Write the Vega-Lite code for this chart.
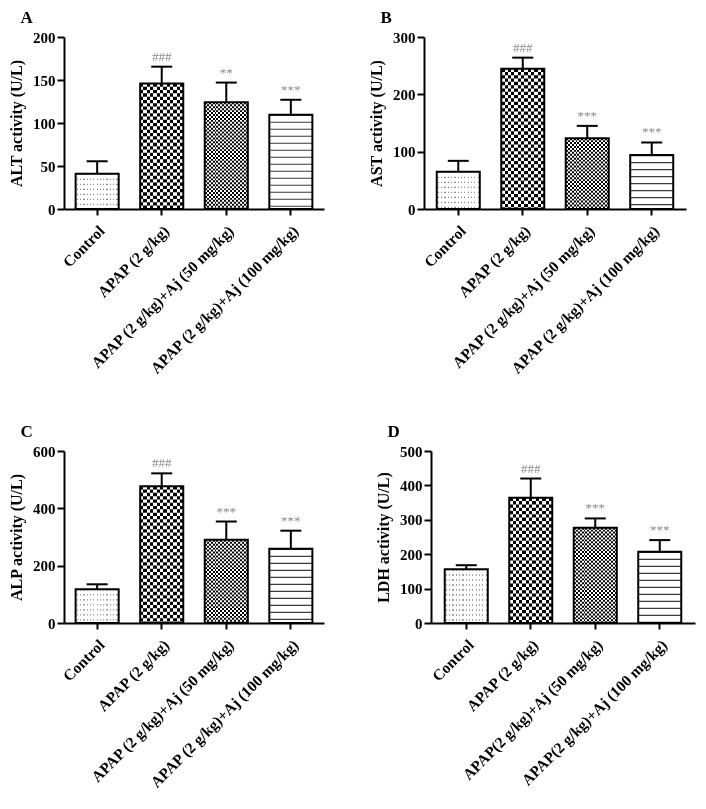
{
  "$schema": "https://vega.github.io/schema/vega-lite/v6.json",
  "background": "white",
  "padding": {"left": 8, "top": 9, "right": 5, "bottom": 5},
  "datasets": {
    "A": [
      {"group": "Control", "mean": 41, "upper": 55.5, "sig": ""},
      {"group": "APAP (2 g/kg)", "mean": 146, "upper": 165.5, "sig": "###"},
      {"group": "APAP (2 g/kg)+Aj (50 mg/kg)", "mean": 124, "upper": 147, "sig": "**"},
      {"group": "APAP (2 g/kg)+Aj (100 mg/kg)", "mean": 109.7, "upper": 127, "sig": "***"}
    ],
    "B": [
      {"group": "Control", "mean": 65, "upper": 84, "sig": ""},
      {"group": "APAP (2 g/kg)", "mean": 244.8, "upper": 264, "sig": "###"},
      {"group": "APAP (2 g/kg)+Aj (50 mg/kg)", "mean": 123.5, "upper": 145, "sig": "***"},
      {"group": "APAP (2 g/kg)+Aj (100 mg/kg)", "mean": 94, "upper": 116, "sig": "***"}
    ],
    "C": [
      {"group": "Control", "mean": 118, "upper": 135, "sig": ""},
      {"group": "APAP (2 g/kg)", "mean": 477, "upper": 522, "sig": "###"},
      {"group": "APAP (2 g/kg)+Aj (50 mg/kg)", "mean": 290, "upper": 354, "sig": "***"},
      {"group": "APAP (2 g/kg)+Aj (100 mg/kg)", "mean": 259, "upper": 322, "sig": "***"}
    ],
    "D": [
      {"group": "Control", "mean": 156, "upper": 168, "sig": ""},
      {"group": "APAP (2 g/kg)", "mean": 364, "upper": 420, "sig": "###"},
      {"group": "APAP(2 g/kg)+Aj (50 mg/kg)", "mean": 277, "upper": 304, "sig": "***"},
      {"group": "APAP(2 g/kg)+Aj (100 mg/kg)", "mean": 207, "upper": 241, "sig": "***"}
    ]
  },
  "config": {
    "view": {"stroke": null},
    "font": "Liberation Serif",
    "axis": {"domainColor": "black", "domainWidth": 2, "tickColor": "black", "tickWidth": 2, "labelFont": "Liberation Serif", "labelFontWeight": "bold", "labelColor": "black", "titleFont": "Liberation Serif", "titleFontWeight": "bold", "titleColor": "black", "grid": false},
    "axisX": {"labelAngle": -45, "labelFontSize": 15.5, "tickSize": 6, "labelPadding": 8, "labelLimit": 400},
    "axisY": {"labelFontSize": 15, "tickSize": 7, "labelPadding": 2, "titleFontSize": 16, "titlePadding": 8, "labelOverlap": false},
    "title": {"font": "Liberation Serif", "fontWeight": "bold", "fontSize": 17, "anchor": "start", "frame": "bounds", "color": "black", "offset": 3, "dx": 12}
  },
  "spacing": 46,
  "vconcat": [
    {
      "spacing": 44,
      "hconcat": [
        {
          "title": "A", "width": 260, "height": 172, "data": {"name": "A"},
          "encoding": {"x": {"field": "group", "type": "nominal", "sort": null, "scale": {"paddingInner": 0.333, "paddingOuter": 0.18}, "axis": {"title": null}}},
          "layer": [
            {"mark": {"type": "bar", "fill": "white", "strokeWidth": 0}, "encoding": {"y": {"field": "mean", "type": "quantitative", "scale": {"domain": [0, 200], "nice": false}, "axis": {"title": "ALT activity (U/L)", "values": [0, 50, 100, 150, 200], "tickCount": 5}}}},
            {"transform": [{"filter": "datum.group == 'Control'"}], "mark": {"type": "rule", "stroke": "#8c8c8c", "strokeWidth": 43, "strokeDash": [1.3, 3.7]}, "encoding": {"y": {"field": "mean", "type": "quantitative"}, "y2": {"datum": 0}}},
            {"transform": [{"filter": "datum.group == 'APAP (2 g/kg)'"}], "mark": {"type": "rule", "stroke": "black", "strokeWidth": 43, "strokeDash": [3.3, 3.3]}, "encoding": {"y": {"field": "mean", "type": "quantitative"}, "y2": {"datum": 0}}},
            {"transform": [{"filter": "indexof(datum.group, '50 mg') >= 0"}], "mark": {"type": "rule", "stroke": "black", "strokeWidth": 43, "strokeDash": [1.95, 1.95]}, "encoding": {"y": {"field": "mean", "type": "quantitative"}, "y2": {"datum": 0}}},
            {"transform": [{"filter": "indexof(datum.group, '100 mg') >= 0"}], "mark": {"type": "rule", "stroke": "#3a3a3a", "strokeWidth": 43, "strokeDash": [1.2, 5.8]}, "encoding": {"y": {"field": "mean", "type": "quantitative"}, "y2": {"datum": 0}}},
            {"transform": [{"filter": "datum.group == 'Control'"}], "mark": {"type": "bar", "strokeWidth": 0, "fill": {"gradient": "linear", "x1": 0, "y1": 0, "x2": 1, "y2": 0, "stops": [
              {"offset": 0, "color": "#ffffff"},
              {"offset": 0.0245, "color": "#ffffff"}, {"offset": 0.0245, "color": "rgba(255,255,255,0)"}, {"offset": 0.0525, "color": "rgba(255,255,255,0)"}, {"offset": 0.0525, "color": "#ffffff"},
              {"offset": 0.1014, "color": "#ffffff"}, {"offset": 0.1014, "color": "rgba(255,255,255,0)"}, {"offset": 0.1294, "color": "rgba(255,255,255,0)"}, {"offset": 0.1294, "color": "#ffffff"},
              {"offset": 0.1783, "color": "#ffffff"}, {"offset": 0.1783, "color": "rgba(255,255,255,0)"}, {"offset": 0.2063, "color": "rgba(255,255,255,0)"}, {"offset": 0.2063, "color": "#ffffff"},
              {"offset": 0.2552, "color": "#ffffff"}, {"offset": 0.2552, "color": "rgba(255,255,255,0)"}, {"offset": 0.2832, "color": "rgba(255,255,255,0)"}, {"offset": 0.2832, "color": "#ffffff"},
              {"offset": 0.3322, "color": "#ffffff"}, {"offset": 0.3322, "color": "rgba(255,255,255,0)"}, {"offset": 0.3602, "color": "rgba(255,255,255,0)"}, {"offset": 0.3602, "color": "#ffffff"},
              {"offset": 0.4091, "color": "#ffffff"}, {"offset": 0.4091, "color": "rgba(255,255,255,0)"}, {"offset": 0.4371, "color": "rgba(255,255,255,0)"}, {"offset": 0.4371, "color": "#ffffff"},
              {"offset": 0.486, "color": "#ffffff"}, {"offset": 0.486, "color": "rgba(255,255,255,0)"}, {"offset": 0.514, "color": "rgba(255,255,255,0)"}, {"offset": 0.514, "color": "#ffffff"},
              {"offset": 0.5629, "color": "#ffffff"}, {"offset": 0.5629, "color": "rgba(255,255,255,0)"}, {"offset": 0.5909, "color": "rgba(255,255,255,0)"}, {"offset": 0.5909, "color": "#ffffff"},
              {"offset": 0.6398, "color": "#ffffff"}, {"offset": 0.6398, "color": "rgba(255,255,255,0)"}, {"offset": 0.6678, "color": "rgba(255,255,255,0)"}, {"offset": 0.6678, "color": "#ffffff"},
              {"offset": 0.7168, "color": "#ffffff"}, {"offset": 0.7168, "color": "rgba(255,255,255,0)"}, {"offset": 0.7448, "color": "rgba(255,255,255,0)"}, {"offset": 0.7448, "color": "#ffffff"},
              {"offset": 0.7937, "color": "#ffffff"}, {"offset": 0.7937, "color": "rgba(255,255,255,0)"}, {"offset": 0.8217, "color": "rgba(255,255,255,0)"}, {"offset": 0.8217, "color": "#ffffff"},
              {"offset": 0.8706, "color": "#ffffff"}, {"offset": 0.8706, "color": "rgba(255,255,255,0)"}, {"offset": 0.8986, "color": "rgba(255,255,255,0)"}, {"offset": 0.8986, "color": "#ffffff"},
              {"offset": 0.9475, "color": "#ffffff"}, {"offset": 0.9475, "color": "rgba(255,255,255,0)"}, {"offset": 0.9755, "color": "rgba(255,255,255,0)"}, {"offset": 0.9755, "color": "#ffffff"},
              {"offset": 1, "color": "#ffffff"}]}}, "encoding": {"y": {"field": "mean", "type": "quantitative"}}},
            {"transform": [{"filter": "datum.group == 'APAP (2 g/kg)'"}], "mark": {"type": "bar", "strokeWidth": 0, "blend": "difference", "fill": {"gradient": "linear", "x1": 0, "y1": 0, "x2": 1, "y2": 0, "stops": [
              {"offset": 0, "color": "rgba(255,255,255,0)"},
              {"offset": 0.0769, "color": "rgba(255,255,255,0)"}, {"offset": 0.0769, "color": "#ffffff"}, {"offset": 0.1538, "color": "#ffffff"}, {"offset": 0.1538, "color": "rgba(255,255,255,0)"},
              {"offset": 0.2308, "color": "rgba(255,255,255,0)"}, {"offset": 0.2308, "color": "#ffffff"}, {"offset": 0.3077, "color": "#ffffff"}, {"offset": 0.3077, "color": "rgba(255,255,255,0)"},
              {"offset": 0.3846, "color": "rgba(255,255,255,0)"}, {"offset": 0.3846, "color": "#ffffff"}, {"offset": 0.4615, "color": "#ffffff"}, {"offset": 0.4615, "color": "rgba(255,255,255,0)"},
              {"offset": 0.5385, "color": "rgba(255,255,255,0)"}, {"offset": 0.5385, "color": "#ffffff"}, {"offset": 0.6154, "color": "#ffffff"}, {"offset": 0.6154, "color": "rgba(255,255,255,0)"},
              {"offset": 0.6923, "color": "rgba(255,255,255,0)"}, {"offset": 0.6923, "color": "#ffffff"}, {"offset": 0.7692, "color": "#ffffff"}, {"offset": 0.7692, "color": "rgba(255,255,255,0)"},
              {"offset": 0.8462, "color": "rgba(255,255,255,0)"}, {"offset": 0.8462, "color": "#ffffff"}, {"offset": 0.9231, "color": "#ffffff"}, {"offset": 0.9231, "color": "rgba(255,255,255,0)"},
              {"offset": 1, "color": "rgba(255,255,255,0)"}]}}, "encoding": {"y": {"field": "mean", "type": "quantitative"}}},
            {"transform": [{"filter": "indexof(datum.group, '50 mg') >= 0"}], "mark": {"type": "bar", "strokeWidth": 0, "blend": "difference", "fill": {"gradient": "linear", "x1": 0, "y1": 0, "x2": 1, "y2": 0, "stops": [
              {"offset": 0, "color": "rgba(255,255,255,0)"},
              {"offset": 0.0455, "color": "rgba(255,255,255,0)"}, {"offset": 0.0455, "color": "#ffffff"}, {"offset": 0.0909, "color": "#ffffff"}, {"offset": 0.0909, "color": "rgba(255,255,255,0)"},
              {"offset": 0.1364, "color": "rgba(255,255,255,0)"}, {"offset": 0.1364, "color": "#ffffff"}, {"offset": 0.1818, "color": "#ffffff"}, {"offset": 0.1818, "color": "rgba(255,255,255,0)"},
              {"offset": 0.2273, "color": "rgba(255,255,255,0)"}, {"offset": 0.2273, "color": "#ffffff"}, {"offset": 0.2727, "color": "#ffffff"}, {"offset": 0.2727, "color": "rgba(255,255,255,0)"},
              {"offset": 0.3182, "color": "rgba(255,255,255,0)"}, {"offset": 0.3182, "color": "#ffffff"}, {"offset": 0.3636, "color": "#ffffff"}, {"offset": 0.3636, "color": "rgba(255,255,255,0)"},
              {"offset": 0.4091, "color": "rgba(255,255,255,0)"}, {"offset": 0.4091, "color": "#ffffff"}, {"offset": 0.4545, "color": "#ffffff"}, {"offset": 0.4545, "color": "rgba(255,255,255,0)"},
              {"offset": 0.5, "color": "rgba(255,255,255,0)"}, {"offset": 0.5, "color": "#ffffff"}, {"offset": 0.5455, "color": "#ffffff"}, {"offset": 0.5455, "color": "rgba(255,255,255,0)"},
              {"offset": 0.5909, "color": "rgba(255,255,255,0)"}, {"offset": 0.5909, "color": "#ffffff"}, {"offset": 0.6364, "color": "#ffffff"}, {"offset": 0.6364, "color": "rgba(255,255,255,0)"},
              {"offset": 0.6818, "color": "rgba(255,255,255,0)"}, {"offset": 0.6818, "color": "#ffffff"}, {"offset": 0.7273, "color": "#ffffff"}, {"offset": 0.7273, "color": "rgba(255,255,255,0)"},
              {"offset": 0.7727, "color": "rgba(255,255,255,0)"}, {"offset": 0.7727, "color": "#ffffff"}, {"offset": 0.8182, "color": "#ffffff"}, {"offset": 0.8182, "color": "rgba(255,255,255,0)"},
              {"offset": 0.8636, "color": "rgba(255,255,255,0)"}, {"offset": 0.8636, "color": "#ffffff"}, {"offset": 0.9091, "color": "#ffffff"}, {"offset": 0.9091, "color": "rgba(255,255,255,0)"},
              {"offset": 0.9545, "color": "rgba(255,255,255,0)"}, {"offset": 0.9545, "color": "#ffffff"}, {"offset": 1, "color": "#ffffff"}]}}, "encoding": {"y": {"field": "mean", "type": "quantitative"}}},
            {"mark": {"type": "bar", "fill": "transparent", "stroke": "black", "strokeWidth": 2}, "encoding": {"y": {"field": "mean", "type": "quantitative"}}},
            {"mark": {"type": "rule", "stroke": "black", "strokeWidth": 2}, "encoding": {"y": {"field": "mean", "type": "quantitative"}, "y2": {"field": "upper"}}},
            {"mark": {"type": "tick", "color": "black", "size": 21, "thickness": 2, "opacity": 1}, "encoding": {"y": {"field": "upper", "type": "quantitative"}}},
            {"mark": {"type": "text", "font": "Liberation Serif", "fontSize": 13, "color": "#8a8a8a", "dy": -6, "baseline": "alphabetic"}, "encoding": {"y": {"field": "upper", "type": "quantitative"}, "text": {"field": "sig", "type": "nominal"}}}
          ]
        },
        {
          "title": "B", "width": 262, "height": 172, "data": {"name": "B"},
          "encoding": {"x": {"field": "group", "type": "nominal", "sort": null, "scale": {"paddingInner": 0.333, "paddingOuter": 0.198}, "axis": {"title": null}}},
          "layer": [
            {"mark": {"type": "bar", "fill": "white", "strokeWidth": 0}, "encoding": {"y": {"field": "mean", "type": "quantitative", "scale": {"domain": [0, 300], "nice": false}, "axis": {"title": "AST activity (U/L)", "values": [0, 100, 200, 300], "tickCount": 4}}}},
            {"transform": [{"filter": "datum.group == 'Control'"}], "mark": {"type": "rule", "stroke": "#8c8c8c", "strokeWidth": 43, "strokeDash": [1.3, 3.7]}, "encoding": {"y": {"field": "mean", "type": "quantitative"}, "y2": {"datum": 0}}},
            {"transform": [{"filter": "datum.group == 'APAP (2 g/kg)'"}], "mark": {"type": "rule", "stroke": "black", "strokeWidth": 43, "strokeDash": [3.3, 3.3]}, "encoding": {"y": {"field": "mean", "type": "quantitative"}, "y2": {"datum": 0}}},
            {"transform": [{"filter": "indexof(datum.group, '50 mg') >= 0"}], "mark": {"type": "rule", "stroke": "black", "strokeWidth": 43, "strokeDash": [1.95, 1.95]}, "encoding": {"y": {"field": "mean", "type": "quantitative"}, "y2": {"datum": 0}}},
            {"transform": [{"filter": "indexof(datum.group, '100 mg') >= 0"}], "mark": {"type": "rule", "stroke": "#3a3a3a", "strokeWidth": 43, "strokeDash": [1.2, 5.8]}, "encoding": {"y": {"field": "mean", "type": "quantitative"}, "y2": {"datum": 0}}},
            {"transform": [{"filter": "datum.group == 'Control'"}], "mark": {"type": "bar", "strokeWidth": 0, "fill": {"gradient": "linear", "x1": 0, "y1": 0, "x2": 1, "y2": 0, "stops": [
              {"offset": 0, "color": "#ffffff"},
              {"offset": 0.0245, "color": "#ffffff"}, {"offset": 0.0245, "color": "rgba(255,255,255,0)"}, {"offset": 0.0525, "color": "rgba(255,255,255,0)"}, {"offset": 0.0525, "color": "#ffffff"},
              {"offset": 0.1014, "color": "#ffffff"}, {"offset": 0.1014, "color": "rgba(255,255,255,0)"}, {"offset": 0.1294, "color": "rgba(255,255,255,0)"}, {"offset": 0.1294, "color": "#ffffff"},
              {"offset": 0.1783, "color": "#ffffff"}, {"offset": 0.1783, "color": "rgba(255,255,255,0)"}, {"offset": 0.2063, "color": "rgba(255,255,255,0)"}, {"offset": 0.2063, "color": "#ffffff"},
              {"offset": 0.2552, "color": "#ffffff"}, {"offset": 0.2552, "color": "rgba(255,255,255,0)"}, {"offset": 0.2832, "color": "rgba(255,255,255,0)"}, {"offset": 0.2832, "color": "#ffffff"},
              {"offset": 0.3322, "color": "#ffffff"}, {"offset": 0.3322, "color": "rgba(255,255,255,0)"}, {"offset": 0.3602, "color": "rgba(255,255,255,0)"}, {"offset": 0.3602, "color": "#ffffff"},
              {"offset": 0.4091, "color": "#ffffff"}, {"offset": 0.4091, "color": "rgba(255,255,255,0)"}, {"offset": 0.4371, "color": "rgba(255,255,255,0)"}, {"offset": 0.4371, "color": "#ffffff"},
              {"offset": 0.486, "color": "#ffffff"}, {"offset": 0.486, "color": "rgba(255,255,255,0)"}, {"offset": 0.514, "color": "rgba(255,255,255,0)"}, {"offset": 0.514, "color": "#ffffff"},
              {"offset": 0.5629, "color": "#ffffff"}, {"offset": 0.5629, "color": "rgba(255,255,255,0)"}, {"offset": 0.5909, "color": "rgba(255,255,255,0)"}, {"offset": 0.5909, "color": "#ffffff"},
              {"offset": 0.6398, "color": "#ffffff"}, {"offset": 0.6398, "color": "rgba(255,255,255,0)"}, {"offset": 0.6678, "color": "rgba(255,255,255,0)"}, {"offset": 0.6678, "color": "#ffffff"},
              {"offset": 0.7168, "color": "#ffffff"}, {"offset": 0.7168, "color": "rgba(255,255,255,0)"}, {"offset": 0.7448, "color": "rgba(255,255,255,0)"}, {"offset": 0.7448, "color": "#ffffff"},
              {"offset": 0.7937, "color": "#ffffff"}, {"offset": 0.7937, "color": "rgba(255,255,255,0)"}, {"offset": 0.8217, "color": "rgba(255,255,255,0)"}, {"offset": 0.8217, "color": "#ffffff"},
              {"offset": 0.8706, "color": "#ffffff"}, {"offset": 0.8706, "color": "rgba(255,255,255,0)"}, {"offset": 0.8986, "color": "rgba(255,255,255,0)"}, {"offset": 0.8986, "color": "#ffffff"},
              {"offset": 0.9475, "color": "#ffffff"}, {"offset": 0.9475, "color": "rgba(255,255,255,0)"}, {"offset": 0.9755, "color": "rgba(255,255,255,0)"}, {"offset": 0.9755, "color": "#ffffff"},
              {"offset": 1, "color": "#ffffff"}]}}, "encoding": {"y": {"field": "mean", "type": "quantitative"}}},
            {"transform": [{"filter": "datum.group == 'APAP (2 g/kg)'"}], "mark": {"type": "bar", "strokeWidth": 0, "blend": "difference", "fill": {"gradient": "linear", "x1": 0, "y1": 0, "x2": 1, "y2": 0, "stops": [
              {"offset": 0, "color": "rgba(255,255,255,0)"},
              {"offset": 0.0769, "color": "rgba(255,255,255,0)"}, {"offset": 0.0769, "color": "#ffffff"}, {"offset": 0.1538, "color": "#ffffff"}, {"offset": 0.1538, "color": "rgba(255,255,255,0)"},
              {"offset": 0.2308, "color": "rgba(255,255,255,0)"}, {"offset": 0.2308, "color": "#ffffff"}, {"offset": 0.3077, "color": "#ffffff"}, {"offset": 0.3077, "color": "rgba(255,255,255,0)"},
              {"offset": 0.3846, "color": "rgba(255,255,255,0)"}, {"offset": 0.3846, "color": "#ffffff"}, {"offset": 0.4615, "color": "#ffffff"}, {"offset": 0.4615, "color": "rgba(255,255,255,0)"},
              {"offset": 0.5385, "color": "rgba(255,255,255,0)"}, {"offset": 0.5385, "color": "#ffffff"}, {"offset": 0.6154, "color": "#ffffff"}, {"offset": 0.6154, "color": "rgba(255,255,255,0)"},
              {"offset": 0.6923, "color": "rgba(255,255,255,0)"}, {"offset": 0.6923, "color": "#ffffff"}, {"offset": 0.7692, "color": "#ffffff"}, {"offset": 0.7692, "color": "rgba(255,255,255,0)"},
              {"offset": 0.8462, "color": "rgba(255,255,255,0)"}, {"offset": 0.8462, "color": "#ffffff"}, {"offset": 0.9231, "color": "#ffffff"}, {"offset": 0.9231, "color": "rgba(255,255,255,0)"},
              {"offset": 1, "color": "rgba(255,255,255,0)"}]}}, "encoding": {"y": {"field": "mean", "type": "quantitative"}}},
            {"transform": [{"filter": "indexof(datum.group, '50 mg') >= 0"}], "mark": {"type": "bar", "strokeWidth": 0, "blend": "difference", "fill": {"gradient": "linear", "x1": 0, "y1": 0, "x2": 1, "y2": 0, "stops": [
              {"offset": 0, "color": "rgba(255,255,255,0)"},
              {"offset": 0.0455, "color": "rgba(255,255,255,0)"}, {"offset": 0.0455, "color": "#ffffff"}, {"offset": 0.0909, "color": "#ffffff"}, {"offset": 0.0909, "color": "rgba(255,255,255,0)"},
              {"offset": 0.1364, "color": "rgba(255,255,255,0)"}, {"offset": 0.1364, "color": "#ffffff"}, {"offset": 0.1818, "color": "#ffffff"}, {"offset": 0.1818, "color": "rgba(255,255,255,0)"},
              {"offset": 0.2273, "color": "rgba(255,255,255,0)"}, {"offset": 0.2273, "color": "#ffffff"}, {"offset": 0.2727, "color": "#ffffff"}, {"offset": 0.2727, "color": "rgba(255,255,255,0)"},
              {"offset": 0.3182, "color": "rgba(255,255,255,0)"}, {"offset": 0.3182, "color": "#ffffff"}, {"offset": 0.3636, "color": "#ffffff"}, {"offset": 0.3636, "color": "rgba(255,255,255,0)"},
              {"offset": 0.4091, "color": "rgba(255,255,255,0)"}, {"offset": 0.4091, "color": "#ffffff"}, {"offset": 0.4545, "color": "#ffffff"}, {"offset": 0.4545, "color": "rgba(255,255,255,0)"},
              {"offset": 0.5, "color": "rgba(255,255,255,0)"}, {"offset": 0.5, "color": "#ffffff"}, {"offset": 0.5455, "color": "#ffffff"}, {"offset": 0.5455, "color": "rgba(255,255,255,0)"},
              {"offset": 0.5909, "color": "rgba(255,255,255,0)"}, {"offset": 0.5909, "color": "#ffffff"}, {"offset": 0.6364, "color": "#ffffff"}, {"offset": 0.6364, "color": "rgba(255,255,255,0)"},
              {"offset": 0.6818, "color": "rgba(255,255,255,0)"}, {"offset": 0.6818, "color": "#ffffff"}, {"offset": 0.7273, "color": "#ffffff"}, {"offset": 0.7273, "color": "rgba(255,255,255,0)"},
              {"offset": 0.7727, "color": "rgba(255,255,255,0)"}, {"offset": 0.7727, "color": "#ffffff"}, {"offset": 0.8182, "color": "#ffffff"}, {"offset": 0.8182, "color": "rgba(255,255,255,0)"},
              {"offset": 0.8636, "color": "rgba(255,255,255,0)"}, {"offset": 0.8636, "color": "#ffffff"}, {"offset": 0.9091, "color": "#ffffff"}, {"offset": 0.9091, "color": "rgba(255,255,255,0)"},
              {"offset": 0.9545, "color": "rgba(255,255,255,0)"}, {"offset": 0.9545, "color": "#ffffff"}, {"offset": 1, "color": "#ffffff"}]}}, "encoding": {"y": {"field": "mean", "type": "quantitative"}}},
            {"mark": {"type": "bar", "fill": "transparent", "stroke": "black", "strokeWidth": 2}, "encoding": {"y": {"field": "mean", "type": "quantitative"}}},
            {"mark": {"type": "rule", "stroke": "black", "strokeWidth": 2}, "encoding": {"y": {"field": "mean", "type": "quantitative"}, "y2": {"field": "upper"}}},
            {"mark": {"type": "tick", "color": "black", "size": 21, "thickness": 2, "opacity": 1}, "encoding": {"y": {"field": "upper", "type": "quantitative"}}},
            {"mark": {"type": "text", "font": "Liberation Serif", "fontSize": 13, "color": "#8a8a8a", "dy": -6, "baseline": "alphabetic"}, "encoding": {"y": {"field": "upper", "type": "quantitative"}, "text": {"field": "sig", "type": "nominal"}}}
          ]
        }
      ]
    },
    {
      "spacing": 51,
      "hconcat": [
        {
          "title": "C", "width": 260, "height": 172, "data": {"name": "C"},
          "encoding": {"x": {"field": "group", "type": "nominal", "sort": null, "scale": {"paddingInner": 0.333, "paddingOuter": 0.18}, "axis": {"title": null}}},
          "layer": [
            {"mark": {"type": "bar", "fill": "white", "strokeWidth": 0}, "encoding": {"y": {"field": "mean", "type": "quantitative", "scale": {"domain": [0, 600], "nice": false}, "axis": {"title": "ALP activity (U/L)", "values": [0, 200, 400, 600], "tickCount": 4}}}},
            {"transform": [{"filter": "datum.group == 'Control'"}], "mark": {"type": "rule", "stroke": "#8c8c8c", "strokeWidth": 43, "strokeDash": [1.3, 3.7]}, "encoding": {"y": {"field": "mean", "type": "quantitative"}, "y2": {"datum": 0}}},
            {"transform": [{"filter": "datum.group == 'APAP (2 g/kg)'"}], "mark": {"type": "rule", "stroke": "black", "strokeWidth": 43, "strokeDash": [3.3, 3.3]}, "encoding": {"y": {"field": "mean", "type": "quantitative"}, "y2": {"datum": 0}}},
            {"transform": [{"filter": "indexof(datum.group, '50 mg') >= 0"}], "mark": {"type": "rule", "stroke": "black", "strokeWidth": 43, "strokeDash": [1.95, 1.95]}, "encoding": {"y": {"field": "mean", "type": "quantitative"}, "y2": {"datum": 0}}},
            {"transform": [{"filter": "indexof(datum.group, '100 mg') >= 0"}], "mark": {"type": "rule", "stroke": "#3a3a3a", "strokeWidth": 43, "strokeDash": [1.2, 5.8]}, "encoding": {"y": {"field": "mean", "type": "quantitative"}, "y2": {"datum": 0}}},
            {"transform": [{"filter": "datum.group == 'Control'"}], "mark": {"type": "bar", "strokeWidth": 0, "fill": {"gradient": "linear", "x1": 0, "y1": 0, "x2": 1, "y2": 0, "stops": [
              {"offset": 0, "color": "#ffffff"},
              {"offset": 0.0245, "color": "#ffffff"}, {"offset": 0.0245, "color": "rgba(255,255,255,0)"}, {"offset": 0.0525, "color": "rgba(255,255,255,0)"}, {"offset": 0.0525, "color": "#ffffff"},
              {"offset": 0.1014, "color": "#ffffff"}, {"offset": 0.1014, "color": "rgba(255,255,255,0)"}, {"offset": 0.1294, "color": "rgba(255,255,255,0)"}, {"offset": 0.1294, "color": "#ffffff"},
              {"offset": 0.1783, "color": "#ffffff"}, {"offset": 0.1783, "color": "rgba(255,255,255,0)"}, {"offset": 0.2063, "color": "rgba(255,255,255,0)"}, {"offset": 0.2063, "color": "#ffffff"},
              {"offset": 0.2552, "color": "#ffffff"}, {"offset": 0.2552, "color": "rgba(255,255,255,0)"}, {"offset": 0.2832, "color": "rgba(255,255,255,0)"}, {"offset": 0.2832, "color": "#ffffff"},
              {"offset": 0.3322, "color": "#ffffff"}, {"offset": 0.3322, "color": "rgba(255,255,255,0)"}, {"offset": 0.3602, "color": "rgba(255,255,255,0)"}, {"offset": 0.3602, "color": "#ffffff"},
              {"offset": 0.4091, "color": "#ffffff"}, {"offset": 0.4091, "color": "rgba(255,255,255,0)"}, {"offset": 0.4371, "color": "rgba(255,255,255,0)"}, {"offset": 0.4371, "color": "#ffffff"},
              {"offset": 0.486, "color": "#ffffff"}, {"offset": 0.486, "color": "rgba(255,255,255,0)"}, {"offset": 0.514, "color": "rgba(255,255,255,0)"}, {"offset": 0.514, "color": "#ffffff"},
              {"offset": 0.5629, "color": "#ffffff"}, {"offset": 0.5629, "color": "rgba(255,255,255,0)"}, {"offset": 0.5909, "color": "rgba(255,255,255,0)"}, {"offset": 0.5909, "color": "#ffffff"},
              {"offset": 0.6398, "color": "#ffffff"}, {"offset": 0.6398, "color": "rgba(255,255,255,0)"}, {"offset": 0.6678, "color": "rgba(255,255,255,0)"}, {"offset": 0.6678, "color": "#ffffff"},
              {"offset": 0.7168, "color": "#ffffff"}, {"offset": 0.7168, "color": "rgba(255,255,255,0)"}, {"offset": 0.7448, "color": "rgba(255,255,255,0)"}, {"offset": 0.7448, "color": "#ffffff"},
              {"offset": 0.7937, "color": "#ffffff"}, {"offset": 0.7937, "color": "rgba(255,255,255,0)"}, {"offset": 0.8217, "color": "rgba(255,255,255,0)"}, {"offset": 0.8217, "color": "#ffffff"},
              {"offset": 0.8706, "color": "#ffffff"}, {"offset": 0.8706, "color": "rgba(255,255,255,0)"}, {"offset": 0.8986, "color": "rgba(255,255,255,0)"}, {"offset": 0.8986, "color": "#ffffff"},
              {"offset": 0.9475, "color": "#ffffff"}, {"offset": 0.9475, "color": "rgba(255,255,255,0)"}, {"offset": 0.9755, "color": "rgba(255,255,255,0)"}, {"offset": 0.9755, "color": "#ffffff"},
              {"offset": 1, "color": "#ffffff"}]}}, "encoding": {"y": {"field": "mean", "type": "quantitative"}}},
            {"transform": [{"filter": "datum.group == 'APAP (2 g/kg)'"}], "mark": {"type": "bar", "strokeWidth": 0, "blend": "difference", "fill": {"gradient": "linear", "x1": 0, "y1": 0, "x2": 1, "y2": 0, "stops": [
              {"offset": 0, "color": "rgba(255,255,255,0)"},
              {"offset": 0.0769, "color": "rgba(255,255,255,0)"}, {"offset": 0.0769, "color": "#ffffff"}, {"offset": 0.1538, "color": "#ffffff"}, {"offset": 0.1538, "color": "rgba(255,255,255,0)"},
              {"offset": 0.2308, "color": "rgba(255,255,255,0)"}, {"offset": 0.2308, "color": "#ffffff"}, {"offset": 0.3077, "color": "#ffffff"}, {"offset": 0.3077, "color": "rgba(255,255,255,0)"},
              {"offset": 0.3846, "color": "rgba(255,255,255,0)"}, {"offset": 0.3846, "color": "#ffffff"}, {"offset": 0.4615, "color": "#ffffff"}, {"offset": 0.4615, "color": "rgba(255,255,255,0)"},
              {"offset": 0.5385, "color": "rgba(255,255,255,0)"}, {"offset": 0.5385, "color": "#ffffff"}, {"offset": 0.6154, "color": "#ffffff"}, {"offset": 0.6154, "color": "rgba(255,255,255,0)"},
              {"offset": 0.6923, "color": "rgba(255,255,255,0)"}, {"offset": 0.6923, "color": "#ffffff"}, {"offset": 0.7692, "color": "#ffffff"}, {"offset": 0.7692, "color": "rgba(255,255,255,0)"},
              {"offset": 0.8462, "color": "rgba(255,255,255,0)"}, {"offset": 0.8462, "color": "#ffffff"}, {"offset": 0.9231, "color": "#ffffff"}, {"offset": 0.9231, "color": "rgba(255,255,255,0)"},
              {"offset": 1, "color": "rgba(255,255,255,0)"}]}}, "encoding": {"y": {"field": "mean", "type": "quantitative"}}},
            {"transform": [{"filter": "indexof(datum.group, '50 mg') >= 0"}], "mark": {"type": "bar", "strokeWidth": 0, "blend": "difference", "fill": {"gradient": "linear", "x1": 0, "y1": 0, "x2": 1, "y2": 0, "stops": [
              {"offset": 0, "color": "rgba(255,255,255,0)"},
              {"offset": 0.0455, "color": "rgba(255,255,255,0)"}, {"offset": 0.0455, "color": "#ffffff"}, {"offset": 0.0909, "color": "#ffffff"}, {"offset": 0.0909, "color": "rgba(255,255,255,0)"},
              {"offset": 0.1364, "color": "rgba(255,255,255,0)"}, {"offset": 0.1364, "color": "#ffffff"}, {"offset": 0.1818, "color": "#ffffff"}, {"offset": 0.1818, "color": "rgba(255,255,255,0)"},
              {"offset": 0.2273, "color": "rgba(255,255,255,0)"}, {"offset": 0.2273, "color": "#ffffff"}, {"offset": 0.2727, "color": "#ffffff"}, {"offset": 0.2727, "color": "rgba(255,255,255,0)"},
              {"offset": 0.3182, "color": "rgba(255,255,255,0)"}, {"offset": 0.3182, "color": "#ffffff"}, {"offset": 0.3636, "color": "#ffffff"}, {"offset": 0.3636, "color": "rgba(255,255,255,0)"},
              {"offset": 0.4091, "color": "rgba(255,255,255,0)"}, {"offset": 0.4091, "color": "#ffffff"}, {"offset": 0.4545, "color": "#ffffff"}, {"offset": 0.4545, "color": "rgba(255,255,255,0)"},
              {"offset": 0.5, "color": "rgba(255,255,255,0)"}, {"offset": 0.5, "color": "#ffffff"}, {"offset": 0.5455, "color": "#ffffff"}, {"offset": 0.5455, "color": "rgba(255,255,255,0)"},
              {"offset": 0.5909, "color": "rgba(255,255,255,0)"}, {"offset": 0.5909, "color": "#ffffff"}, {"offset": 0.6364, "color": "#ffffff"}, {"offset": 0.6364, "color": "rgba(255,255,255,0)"},
              {"offset": 0.6818, "color": "rgba(255,255,255,0)"}, {"offset": 0.6818, "color": "#ffffff"}, {"offset": 0.7273, "color": "#ffffff"}, {"offset": 0.7273, "color": "rgba(255,255,255,0)"},
              {"offset": 0.7727, "color": "rgba(255,255,255,0)"}, {"offset": 0.7727, "color": "#ffffff"}, {"offset": 0.8182, "color": "#ffffff"}, {"offset": 0.8182, "color": "rgba(255,255,255,0)"},
              {"offset": 0.8636, "color": "rgba(255,255,255,0)"}, {"offset": 0.8636, "color": "#ffffff"}, {"offset": 0.9091, "color": "#ffffff"}, {"offset": 0.9091, "color": "rgba(255,255,255,0)"},
              {"offset": 0.9545, "color": "rgba(255,255,255,0)"}, {"offset": 0.9545, "color": "#ffffff"}, {"offset": 1, "color": "#ffffff"}]}}, "encoding": {"y": {"field": "mean", "type": "quantitative"}}},
            {"mark": {"type": "bar", "fill": "transparent", "stroke": "black", "strokeWidth": 2}, "encoding": {"y": {"field": "mean", "type": "quantitative"}}},
            {"mark": {"type": "rule", "stroke": "black", "strokeWidth": 2}, "encoding": {"y": {"field": "mean", "type": "quantitative"}, "y2": {"field": "upper"}}},
            {"mark": {"type": "tick", "color": "black", "size": 21, "thickness": 2, "opacity": 1}, "encoding": {"y": {"field": "upper", "type": "quantitative"}}},
            {"mark": {"type": "text", "font": "Liberation Serif", "fontSize": 13, "color": "#8a8a8a", "dy": -6, "baseline": "alphabetic"}, "encoding": {"y": {"field": "upper", "type": "quantitative"}, "text": {"field": "sig", "type": "nominal"}}}
          ]
        },
        {
          "title": "D", "width": 264, "height": 172, "data": {"name": "D"},
          "encoding": {"x": {"field": "group", "type": "nominal", "sort": null, "scale": {"paddingInner": 0.333, "paddingOuter": 0.213}, "axis": {"title": null}}},
          "layer": [
            {"mark": {"type": "bar", "fill": "white", "strokeWidth": 0}, "encoding": {"y": {"field": "mean", "type": "quantitative", "scale": {"domain": [0, 500], "nice": false}, "axis": {"title": "LDH activity (U/L)", "values": [0, 100, 200, 300, 400, 500], "tickCount": 6}}}},
            {"transform": [{"filter": "datum.group == 'Control'"}], "mark": {"type": "rule", "stroke": "#8c8c8c", "strokeWidth": 43, "strokeDash": [1.3, 3.7]}, "encoding": {"y": {"field": "mean", "type": "quantitative"}, "y2": {"datum": 0}}},
            {"transform": [{"filter": "datum.group == 'APAP (2 g/kg)'"}], "mark": {"type": "rule", "stroke": "black", "strokeWidth": 43, "strokeDash": [3.3, 3.3]}, "encoding": {"y": {"field": "mean", "type": "quantitative"}, "y2": {"datum": 0}}},
            {"transform": [{"filter": "indexof(datum.group, '50 mg') >= 0"}], "mark": {"type": "rule", "stroke": "black", "strokeWidth": 43, "strokeDash": [1.95, 1.95]}, "encoding": {"y": {"field": "mean", "type": "quantitative"}, "y2": {"datum": 0}}},
            {"transform": [{"filter": "indexof(datum.group, '100 mg') >= 0"}], "mark": {"type": "rule", "stroke": "#3a3a3a", "strokeWidth": 43, "strokeDash": [1.2, 5.8]}, "encoding": {"y": {"field": "mean", "type": "quantitative"}, "y2": {"datum": 0}}},
            {"transform": [{"filter": "datum.group == 'Control'"}], "mark": {"type": "bar", "strokeWidth": 0, "fill": {"gradient": "linear", "x1": 0, "y1": 0, "x2": 1, "y2": 0, "stops": [
              {"offset": 0, "color": "#ffffff"},
              {"offset": 0.0245, "color": "#ffffff"}, {"offset": 0.0245, "color": "rgba(255,255,255,0)"}, {"offset": 0.0525, "color": "rgba(255,255,255,0)"}, {"offset": 0.0525, "color": "#ffffff"},
              {"offset": 0.1014, "color": "#ffffff"}, {"offset": 0.1014, "color": "rgba(255,255,255,0)"}, {"offset": 0.1294, "color": "rgba(255,255,255,0)"}, {"offset": 0.1294, "color": "#ffffff"},
              {"offset": 0.1783, "color": "#ffffff"}, {"offset": 0.1783, "color": "rgba(255,255,255,0)"}, {"offset": 0.2063, "color": "rgba(255,255,255,0)"}, {"offset": 0.2063, "color": "#ffffff"},
              {"offset": 0.2552, "color": "#ffffff"}, {"offset": 0.2552, "color": "rgba(255,255,255,0)"}, {"offset": 0.2832, "color": "rgba(255,255,255,0)"}, {"offset": 0.2832, "color": "#ffffff"},
              {"offset": 0.3322, "color": "#ffffff"}, {"offset": 0.3322, "color": "rgba(255,255,255,0)"}, {"offset": 0.3602, "color": "rgba(255,255,255,0)"}, {"offset": 0.3602, "color": "#ffffff"},
              {"offset": 0.4091, "color": "#ffffff"}, {"offset": 0.4091, "color": "rgba(255,255,255,0)"}, {"offset": 0.4371, "color": "rgba(255,255,255,0)"}, {"offset": 0.4371, "color": "#ffffff"},
              {"offset": 0.486, "color": "#ffffff"}, {"offset": 0.486, "color": "rgba(255,255,255,0)"}, {"offset": 0.514, "color": "rgba(255,255,255,0)"}, {"offset": 0.514, "color": "#ffffff"},
              {"offset": 0.5629, "color": "#ffffff"}, {"offset": 0.5629, "color": "rgba(255,255,255,0)"}, {"offset": 0.5909, "color": "rgba(255,255,255,0)"}, {"offset": 0.5909, "color": "#ffffff"},
              {"offset": 0.6398, "color": "#ffffff"}, {"offset": 0.6398, "color": "rgba(255,255,255,0)"}, {"offset": 0.6678, "color": "rgba(255,255,255,0)"}, {"offset": 0.6678, "color": "#ffffff"},
              {"offset": 0.7168, "color": "#ffffff"}, {"offset": 0.7168, "color": "rgba(255,255,255,0)"}, {"offset": 0.7448, "color": "rgba(255,255,255,0)"}, {"offset": 0.7448, "color": "#ffffff"},
              {"offset": 0.7937, "color": "#ffffff"}, {"offset": 0.7937, "color": "rgba(255,255,255,0)"}, {"offset": 0.8217, "color": "rgba(255,255,255,0)"}, {"offset": 0.8217, "color": "#ffffff"},
              {"offset": 0.8706, "color": "#ffffff"}, {"offset": 0.8706, "color": "rgba(255,255,255,0)"}, {"offset": 0.8986, "color": "rgba(255,255,255,0)"}, {"offset": 0.8986, "color": "#ffffff"},
              {"offset": 0.9475, "color": "#ffffff"}, {"offset": 0.9475, "color": "rgba(255,255,255,0)"}, {"offset": 0.9755, "color": "rgba(255,255,255,0)"}, {"offset": 0.9755, "color": "#ffffff"},
              {"offset": 1, "color": "#ffffff"}]}}, "encoding": {"y": {"field": "mean", "type": "quantitative"}}},
            {"transform": [{"filter": "datum.group == 'APAP (2 g/kg)'"}], "mark": {"type": "bar", "strokeWidth": 0, "blend": "difference", "fill": {"gradient": "linear", "x1": 0, "y1": 0, "x2": 1, "y2": 0, "stops": [
              {"offset": 0, "color": "rgba(255,255,255,0)"},
              {"offset": 0.0769, "color": "rgba(255,255,255,0)"}, {"offset": 0.0769, "color": "#ffffff"}, {"offset": 0.1538, "color": "#ffffff"}, {"offset": 0.1538, "color": "rgba(255,255,255,0)"},
              {"offset": 0.2308, "color": "rgba(255,255,255,0)"}, {"offset": 0.2308, "color": "#ffffff"}, {"offset": 0.3077, "color": "#ffffff"}, {"offset": 0.3077, "color": "rgba(255,255,255,0)"},
              {"offset": 0.3846, "color": "rgba(255,255,255,0)"}, {"offset": 0.3846, "color": "#ffffff"}, {"offset": 0.4615, "color": "#ffffff"}, {"offset": 0.4615, "color": "rgba(255,255,255,0)"},
              {"offset": 0.5385, "color": "rgba(255,255,255,0)"}, {"offset": 0.5385, "color": "#ffffff"}, {"offset": 0.6154, "color": "#ffffff"}, {"offset": 0.6154, "color": "rgba(255,255,255,0)"},
              {"offset": 0.6923, "color": "rgba(255,255,255,0)"}, {"offset": 0.6923, "color": "#ffffff"}, {"offset": 0.7692, "color": "#ffffff"}, {"offset": 0.7692, "color": "rgba(255,255,255,0)"},
              {"offset": 0.8462, "color": "rgba(255,255,255,0)"}, {"offset": 0.8462, "color": "#ffffff"}, {"offset": 0.9231, "color": "#ffffff"}, {"offset": 0.9231, "color": "rgba(255,255,255,0)"},
              {"offset": 1, "color": "rgba(255,255,255,0)"}]}}, "encoding": {"y": {"field": "mean", "type": "quantitative"}}},
            {"transform": [{"filter": "indexof(datum.group, '50 mg') >= 0"}], "mark": {"type": "bar", "strokeWidth": 0, "blend": "difference", "fill": {"gradient": "linear", "x1": 0, "y1": 0, "x2": 1, "y2": 0, "stops": [
              {"offset": 0, "color": "rgba(255,255,255,0)"},
              {"offset": 0.0455, "color": "rgba(255,255,255,0)"}, {"offset": 0.0455, "color": "#ffffff"}, {"offset": 0.0909, "color": "#ffffff"}, {"offset": 0.0909, "color": "rgba(255,255,255,0)"},
              {"offset": 0.1364, "color": "rgba(255,255,255,0)"}, {"offset": 0.1364, "color": "#ffffff"}, {"offset": 0.1818, "color": "#ffffff"}, {"offset": 0.1818, "color": "rgba(255,255,255,0)"},
              {"offset": 0.2273, "color": "rgba(255,255,255,0)"}, {"offset": 0.2273, "color": "#ffffff"}, {"offset": 0.2727, "color": "#ffffff"}, {"offset": 0.2727, "color": "rgba(255,255,255,0)"},
              {"offset": 0.3182, "color": "rgba(255,255,255,0)"}, {"offset": 0.3182, "color": "#ffffff"}, {"offset": 0.3636, "color": "#ffffff"}, {"offset": 0.3636, "color": "rgba(255,255,255,0)"},
              {"offset": 0.4091, "color": "rgba(255,255,255,0)"}, {"offset": 0.4091, "color": "#ffffff"}, {"offset": 0.4545, "color": "#ffffff"}, {"offset": 0.4545, "color": "rgba(255,255,255,0)"},
              {"offset": 0.5, "color": "rgba(255,255,255,0)"}, {"offset": 0.5, "color": "#ffffff"}, {"offset": 0.5455, "color": "#ffffff"}, {"offset": 0.5455, "color": "rgba(255,255,255,0)"},
              {"offset": 0.5909, "color": "rgba(255,255,255,0)"}, {"offset": 0.5909, "color": "#ffffff"}, {"offset": 0.6364, "color": "#ffffff"}, {"offset": 0.6364, "color": "rgba(255,255,255,0)"},
              {"offset": 0.6818, "color": "rgba(255,255,255,0)"}, {"offset": 0.6818, "color": "#ffffff"}, {"offset": 0.7273, "color": "#ffffff"}, {"offset": 0.7273, "color": "rgba(255,255,255,0)"},
              {"offset": 0.7727, "color": "rgba(255,255,255,0)"}, {"offset": 0.7727, "color": "#ffffff"}, {"offset": 0.8182, "color": "#ffffff"}, {"offset": 0.8182, "color": "rgba(255,255,255,0)"},
              {"offset": 0.8636, "color": "rgba(255,255,255,0)"}, {"offset": 0.8636, "color": "#ffffff"}, {"offset": 0.9091, "color": "#ffffff"}, {"offset": 0.9091, "color": "rgba(255,255,255,0)"},
              {"offset": 0.9545, "color": "rgba(255,255,255,0)"}, {"offset": 0.9545, "color": "#ffffff"}, {"offset": 1, "color": "#ffffff"}]}}, "encoding": {"y": {"field": "mean", "type": "quantitative"}}},
            {"mark": {"type": "bar", "fill": "transparent", "stroke": "black", "strokeWidth": 2}, "encoding": {"y": {"field": "mean", "type": "quantitative"}}},
            {"mark": {"type": "rule", "stroke": "black", "strokeWidth": 2}, "encoding": {"y": {"field": "mean", "type": "quantitative"}, "y2": {"field": "upper"}}},
            {"mark": {"type": "tick", "color": "black", "size": 21, "thickness": 2, "opacity": 1}, "encoding": {"y": {"field": "upper", "type": "quantitative"}}},
            {"mark": {"type": "text", "font": "Liberation Serif", "fontSize": 13, "color": "#8a8a8a", "dy": -6, "baseline": "alphabetic"}, "encoding": {"y": {"field": "upper", "type": "quantitative"}, "text": {"field": "sig", "type": "nominal"}}}
          ]
        }
      ]
    }
  ]
}
